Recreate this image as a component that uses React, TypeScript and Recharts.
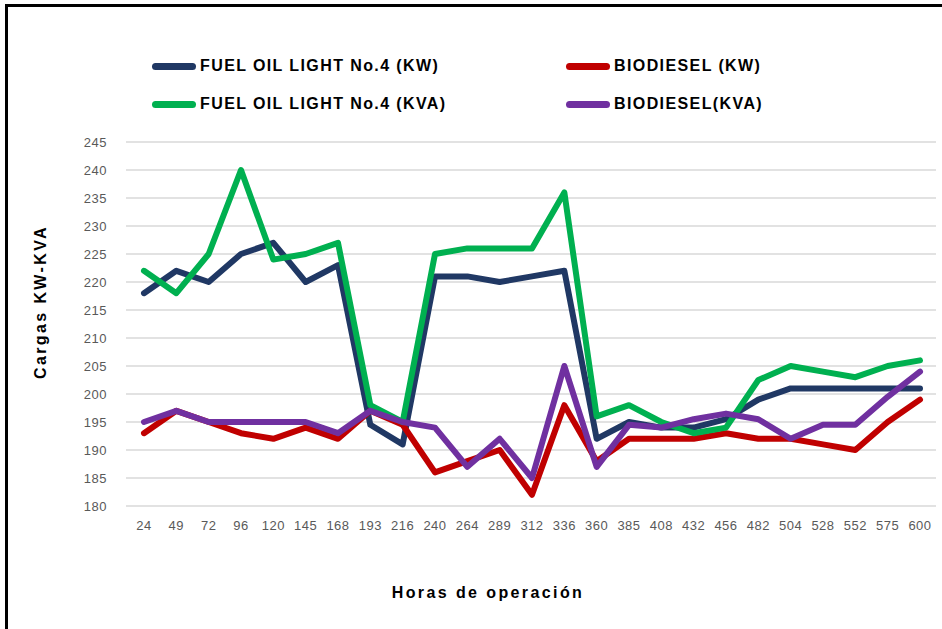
import { LineChart, Line, XAxis, YAxis, CartesianGrid } from 'recharts';

const hours = ['24', '49', '72', '96', '120', '145', '168', '193', '216', '240', '264', '289', '312', '336', '360', '385', '408', '432', '456', '482', '504', '528', '552', '575', '600'];
const fuelKw = [218, 222, 220, 225, 227, 220, 223, 194.5, 191, 221, 221, 220, 221, 222, 192, 195, 194, 194, 195.5, 199, 201, 201, 201, 201, 201];
const fuelKva = [222, 218, 225, 240, 224, 225, 227, 198, 195, 225, 226, 226, 226, 236, 196, 198, 195, 193, 194, 202.5, 205, 204, 203, 205, 206];
const bioKw = [193, 197, 195, 193, 192, 194, 192, 197, 194.5, 186, 188, 190, 182, 198, 188, 192, 192, 192, 193, 192, 192, 191, 190, 195, 199];
const bioKva = [195, 197, 195, 195, 195, 195, 193, 197, 195, 194, 187, 192, 185, 205, 187, 194.5, 194, 195.5, 196.5, 195.5, 192, 194.5, 194.5, 199.5, 204];
const yTicks = [180, 185, 190, 195, 200, 205, 210, 215, 220, 225, 230, 235, 240, 245];

const series = [
  { key: 'fuelKw', name: 'FUEL OIL LIGHT No.4 (KW)', color: '#203864' },
  { key: 'bioKw', name: 'BIODIESEL (KW)', color: '#c00000' },
  { key: 'fuelKva', name: 'FUEL OIL LIGHT No.4 (KVA)', color: '#00b050' },
  { key: 'bioKva', name: 'BIODIESEL(KVA)', color: '#7030a0' },
];

const data = hours.map((h, i) => ({
  hour: h,
  fuelKw: fuelKw[i],
  fuelKva: fuelKva[i],
  bioKw: bioKw[i],
  bioKva: bioKva[i],
}));

const font = '"Liberation Sans", Arial, sans-serif';

const tickStyle = {
  fill: '#595959',
  fontSize: 13,
  fontFamily: font,
  letterSpacing: 0.5,
};

// legend is laid out as a 2x2 grid like the original
const legendPos = [
  { left: 152, top: 66 },
  { left: 566, top: 66 },
  { left: 152, top: 104 },
  { left: 566, top: 104 },
];

function LegendBlock() {
  return (
    <>
      {series.map((s, i) => (
        <div
          key={s.key}
          style={{
            position: 'absolute',
            left: legendPos[i].left,
            top: legendPos[i].top - 10,
            height: 20,
            display: 'flex',
            alignItems: 'center',
            fontFamily: font,
            fontWeight: 'bold',
            fontSize: 16,
            letterSpacing: 1.4,
            color: '#000',
            whiteSpace: 'nowrap',
          }}
        >
          <span
            style={{
              display: 'inline-block',
              width: 44,
              height: 7,
              borderRadius: 4,
              background: s.color,
              marginRight: 4,
            }}
          />
          {s.name}
        </div>
      ))}
    </>
  );
}

export default function App() {
  return (
    <div
      style={{
        position: 'fixed',
        left: 0,
        top: 0,
        width: 942,
        height: 629,
        overflow: 'hidden',
        background: '#fff',
      }}
    >
      <div
        style={{
          position: 'absolute',
          left: 5,
          top: 4,
          width: 1000,
          height: 700,
          border: '3px solid #000',
        }}
      />
      <LegendBlock />
      <div style={{ position: 'absolute', left: 0, top: 0 }}>
        <LineChart
          width={942}
          height={629}
          data={data}
          margin={{ top: 142, right: 6, bottom: 93, left: 66 }}
        >
          <CartesianGrid vertical={false} stroke="#d9d9d9" strokeWidth={1.5} />
          <XAxis
            dataKey="hour"
            height={30}
            axisLine={false}
            tickLine={false}
            tickSize={0}
            tickMargin={15}
            interval={0}
            padding={{ left: 18, right: 16 }}
            tick={tickStyle}
          />
          <YAxis
            width={60}
            domain={[180, 245]}
            ticks={yTicks}
            axisLine={false}
            tickLine={false}
            tickSize={0}
            tickMargin={19}
            tick={tickStyle}
          />
          {series.map((s) => (
            <Line
              key={s.key}
              type="linear"
              dataKey={s.key}
              name={s.name}
              stroke={s.color}
              strokeWidth={6}
              strokeLinejoin="round"
              strokeLinecap="round"
              dot={false}
              activeDot={false}
              isAnimationActive={false}
            />
          ))}
        </LineChart>
      </div>
      <div
        style={{
          position: 'absolute',
          left: 41,
          top: 302,
          transform: 'translate(-50%, -50%) rotate(-90deg)',
          fontFamily: font,
          fontWeight: 'bold',
          fontSize: 16,
          letterSpacing: 2.4,
          whiteSpace: 'nowrap',
          color: '#000',
        }}
      >
        Cargas KW-KVA
      </div>
      <div
        style={{
          position: 'absolute',
          left: 488,
          top: 593,
          transform: 'translate(-50%, -50%)',
          fontFamily: font,
          fontWeight: 'bold',
          fontSize: 16,
          letterSpacing: 2.4,
          whiteSpace: 'nowrap',
          color: '#000',
        }}
      >
        Horas de operación
      </div>
    </div>
  );
}
